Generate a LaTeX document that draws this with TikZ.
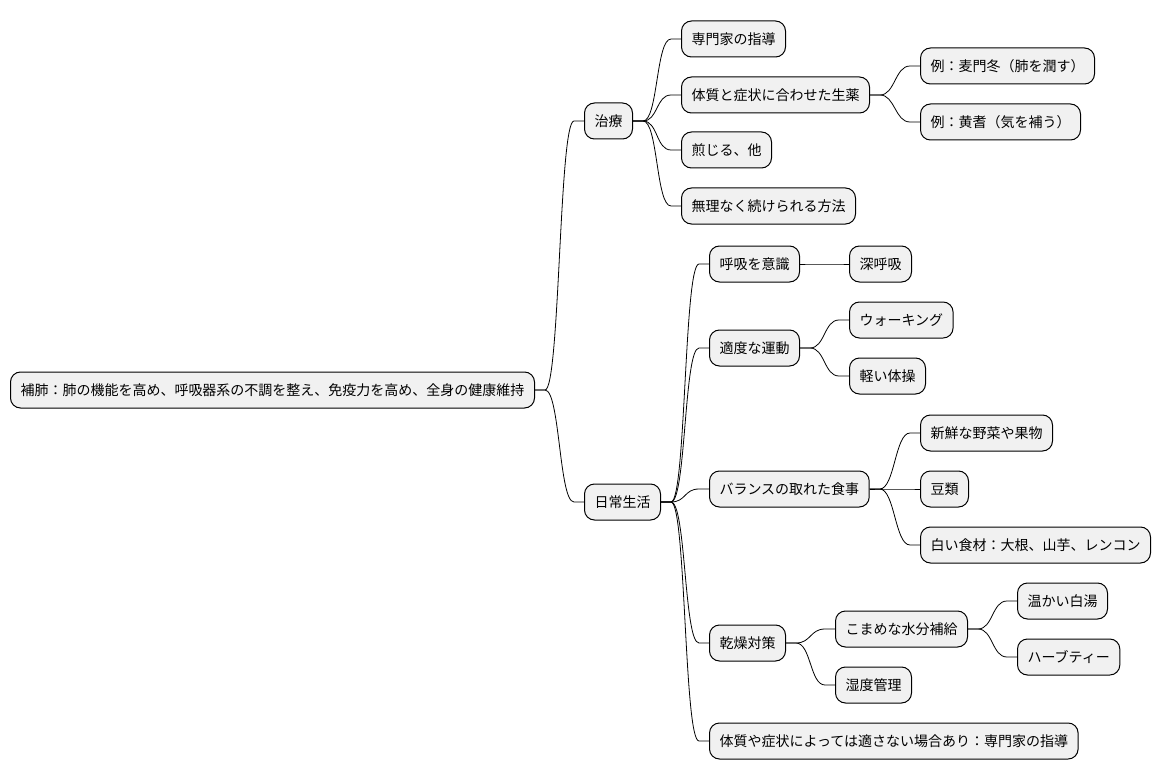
\documentclass[tikz,border=0pt]{standalone}
\usepackage{fontspec}
\setmainfont{Noto Sans CJK JP}
\usetikzlibrary{calc}
\definecolor{nodefill}{HTML}{F1F1F1}
\tikzset{
  mm/.style={draw=black, fill=nodefill, rounded corners=10pt, line width=1pt,
    minimum height=36pt, inner xsep=10pt, inner ysep=0pt, anchor=west,
    font=\fontsize{14pt}{16pt}\selectfont, text=black},
  branch/.style={line width=0.8pt,
    to path={-- ++(10,0) .. controls +(15,0) and +(-15,0) .. ($(\tikztotarget)+(-10,0)$) -- (\tikztotarget)}}
}
\begin{document}
\begin{tikzpicture}[x=1pt,y=-1pt]
\useasboundingbox[fill=white] (0,0) rectangle (1160,781);
% root
\node[mm] (root) at (10,390) {補肺：肺の機能を高め、呼吸器系の不調を整え、免疫力を高め、全身の健康維持};
% level 1
\node[mm] (chiryo) at (584,121) {治療};
\node[mm] (nichijo) at (584,502) {日常生活};
% 治療 children
\node[mm] (senmon) at (681,39) {専門家の指導};
\node[mm] (shoyaku) at (681,95) {体質と症状に合わせた生薬};
\node[mm] (senjiru) at (681,150) {煎じる、他};
\node[mm] (muri) at (681,206) {無理なく続けられる方法};
\node[mm] (bakumon) at (920,66) {例：麦門冬（肺を潤す）};
\node[mm] (ogi) at (920,122) {例：黄耆（気を補う）};
% 日常生活 children
\node[mm] (kokyu) at (709,264) {呼吸を意識};
\node[mm] (shinkokyu) at (849,264) {深呼吸};
\node[mm] (undo) at (709,348) {適度な運動};
\node[mm] (walk) at (849,320) {ウォーキング};
\node[mm] (taiso) at (849,376) {軽い体操};
\node[mm] (shokuji) at (709,489) {バランスの取れた食事};
\node[mm] (yasai) at (920,433) {新鮮な野菜や果物};
\node[mm] (mame) at (920,489) {豆類};
\node[mm] (shiroi) at (920,545) {白い食材：大根、山芋、レンコン};
\node[mm] (kanso) at (709,643) {乾燥対策};
\node[mm] (suibun) at (835,629) {こまめな水分補給};
\node[mm] (shitsudo) at (835,685) {湿度管理};
\node[mm] (sayu) at (1017,601) {温かい白湯};
\node[mm] (herb) at (1017,657) {ハーブティー};
\node[mm] (chui) at (709,741) {体質や症状によっては適さない場合あり：専門家の指導};
% connectors
\draw[branch] (root.east) to (chiryo.west);
\draw[branch] (root.east) to (nichijo.west);
\draw[branch] (chiryo.east) to (senmon.west);
\draw[branch] (chiryo.east) to (shoyaku.west);
\draw[branch] (chiryo.east) to (senjiru.west);
\draw[branch] (chiryo.east) to (muri.west);
\draw[branch] (shoyaku.east) to (bakumon.west);
\draw[branch] (shoyaku.east) to (ogi.west);
\draw[branch] (nichijo.east) to (kokyu.west);
\draw[branch] (nichijo.east) to (undo.west);
\draw[branch] (nichijo.east) to (shokuji.west);
\draw[branch] (nichijo.east) to (kanso.west);
\draw[branch] (nichijo.east) to (chui.west);
\draw[branch] (kokyu.east) to (shinkokyu.west);
\draw[branch] (undo.east) to (walk.west);
\draw[branch] (undo.east) to (taiso.west);
\draw[branch] (shokuji.east) to (yasai.west);
\draw[branch] (shokuji.east) to (mame.west);
\draw[branch] (shokuji.east) to (shiroi.west);
\draw[branch] (kanso.east) to (suibun.west);
\draw[branch] (kanso.east) to (shitsudo.west);
\draw[branch] (suibun.east) to (sayu.west);
\draw[branch] (suibun.east) to (herb.west);
\end{tikzpicture}
\end{document}
